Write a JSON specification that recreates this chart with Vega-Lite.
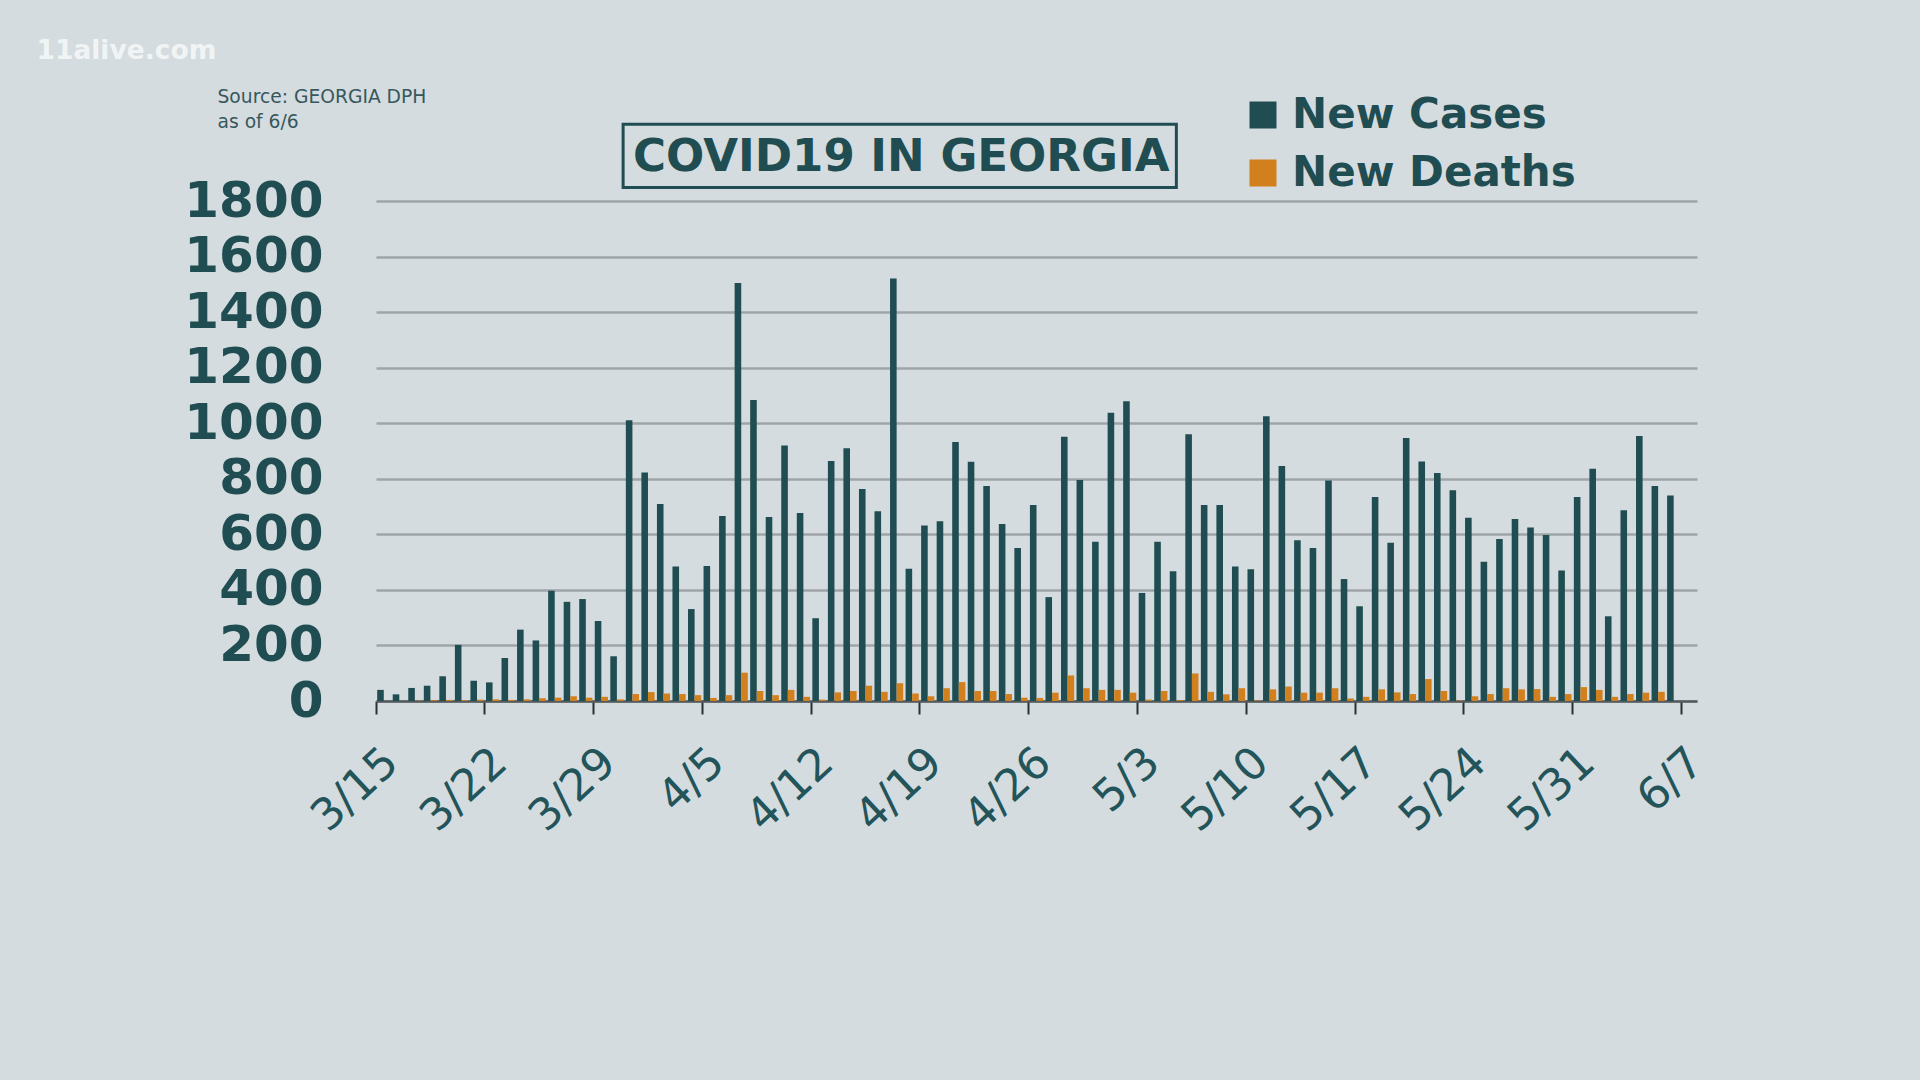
{
"$schema": "https://vega.github.io/schema/vega-lite/v6.json",
"width": 1321,
"height": 500,
"autosize": {"type": "none"},
"padding": {"left": 376, "top": 201, "right": 223, "bottom": 379},
"background": "#d5dcdf",
"config": {"view": {"stroke": null}, "font": "DejaVu Sans"},
"data": {"values": [
{"date":"3/15","series":"New Cases","value":40},{"date":"3/15","series":"New Deaths","value":0},
{"date":"3/16","series":"New Cases","value":24},{"date":"3/16","series":"New Deaths","value":0},
{"date":"3/17","series":"New Cases","value":47},{"date":"3/17","series":"New Deaths","value":1},
{"date":"3/18","series":"New Cases","value":55},{"date":"3/18","series":"New Deaths","value":3},
{"date":"3/19","series":"New Cases","value":89},{"date":"3/19","series":"New Deaths","value":4},
{"date":"3/20","series":"New Cases","value":202},{"date":"3/20","series":"New Deaths","value":3},
{"date":"3/21","series":"New Cases","value":73},{"date":"3/21","series":"New Deaths","value":5},
{"date":"3/22","series":"New Cases","value":67},{"date":"3/22","series":"New Deaths","value":6},
{"date":"3/23","series":"New Cases","value":155},{"date":"3/23","series":"New Deaths","value":4},
{"date":"3/24","series":"New Cases","value":257},{"date":"3/24","series":"New Deaths","value":6},
{"date":"3/25","series":"New Cases","value":218},{"date":"3/25","series":"New Deaths","value":10},
{"date":"3/26","series":"New Cases","value":397},{"date":"3/26","series":"New Deaths","value":12},
{"date":"3/27","series":"New Cases","value":357},{"date":"3/27","series":"New Deaths","value":17},
{"date":"3/28","series":"New Cases","value":367},{"date":"3/28","series":"New Deaths","value":12},
{"date":"3/29","series":"New Cases","value":288},{"date":"3/29","series":"New Deaths","value":15},
{"date":"3/30","series":"New Cases","value":161},{"date":"3/30","series":"New Deaths","value":6},
{"date":"3/31","series":"New Cases","value":1011},{"date":"3/31","series":"New Deaths","value":25},
{"date":"4/1","series":"New Cases","value":823},{"date":"4/1","series":"New Deaths","value":32},
{"date":"4/2","series":"New Cases","value":709},{"date":"4/2","series":"New Deaths","value":27},
{"date":"4/3","series":"New Cases","value":484},{"date":"4/3","series":"New Deaths","value":25},
{"date":"4/4","series":"New Cases","value":331},{"date":"4/4","series":"New Deaths","value":21},
{"date":"4/5","series":"New Cases","value":486},{"date":"4/5","series":"New Deaths","value":11},
{"date":"4/6","series":"New Cases","value":666},{"date":"4/6","series":"New Deaths","value":21},
{"date":"4/7","series":"New Cases","value":1505},{"date":"4/7","series":"New Deaths","value":102},
{"date":"4/8","series":"New Cases","value":1084},{"date":"4/8","series":"New Deaths","value":36},
{"date":"4/9","series":"New Cases","value":662},{"date":"4/9","series":"New Deaths","value":21},
{"date":"4/10","series":"New Cases","value":920},{"date":"4/10","series":"New Deaths","value":40},
{"date":"4/11","series":"New Cases","value":677},{"date":"4/11","series":"New Deaths","value":15},
{"date":"4/12","series":"New Cases","value":298},{"date":"4/12","series":"New Deaths","value":5},
{"date":"4/13","series":"New Cases","value":864},{"date":"4/13","series":"New Deaths","value":31},
{"date":"4/14","series":"New Cases","value":910},{"date":"4/14","series":"New Deaths","value":36},
{"date":"4/15","series":"New Cases","value":763},{"date":"4/15","series":"New Deaths","value":55},
{"date":"4/16","series":"New Cases","value":683},{"date":"4/16","series":"New Deaths","value":33},
{"date":"4/17","series":"New Cases","value":1521},{"date":"4/17","series":"New Deaths","value":64},
{"date":"4/18","series":"New Cases","value":476},{"date":"4/18","series":"New Deaths","value":27},
{"date":"4/19","series":"New Cases","value":632},{"date":"4/19","series":"New Deaths","value":17},
{"date":"4/20","series":"New Cases","value":647},{"date":"4/20","series":"New Deaths","value":46},
{"date":"4/21","series":"New Cases","value":932},{"date":"4/21","series":"New Deaths","value":68},
{"date":"4/22","series":"New Cases","value":861},{"date":"4/22","series":"New Deaths","value":36},
{"date":"4/23","series":"New Cases","value":774},{"date":"4/23","series":"New Deaths","value":36},
{"date":"4/24","series":"New Cases","value":637},{"date":"4/24","series":"New Deaths","value":25},
{"date":"4/25","series":"New Cases","value":551},{"date":"4/25","series":"New Deaths","value":12},
{"date":"4/26","series":"New Cases","value":706},{"date":"4/26","series":"New Deaths","value":11},
{"date":"4/27","series":"New Cases","value":374},{"date":"4/27","series":"New Deaths","value":30},
{"date":"4/28","series":"New Cases","value":951},{"date":"4/28","series":"New Deaths","value":92},
{"date":"4/29","series":"New Cases","value":796},{"date":"4/29","series":"New Deaths","value":46},
{"date":"4/30","series":"New Cases","value":573},{"date":"4/30","series":"New Deaths","value":40},
{"date":"5/1","series":"New Cases","value":1038},{"date":"5/1","series":"New Deaths","value":40},
{"date":"5/2","series":"New Cases","value":1079},{"date":"5/2","series":"New Deaths","value":30},
{"date":"5/3","series":"New Cases","value":389},{"date":"5/3","series":"New Deaths","value":5},
{"date":"5/4","series":"New Cases","value":573},{"date":"5/4","series":"New Deaths","value":36},
{"date":"5/5","series":"New Cases","value":467},{"date":"5/5","series":"New Deaths","value":3},
{"date":"5/6","series":"New Cases","value":960},{"date":"5/6","series":"New Deaths","value":99},
{"date":"5/7","series":"New Cases","value":706},{"date":"5/7","series":"New Deaths","value":33},
{"date":"5/8","series":"New Cases","value":706},{"date":"5/8","series":"New Deaths","value":24},
{"date":"5/9","series":"New Cases","value":484},{"date":"5/9","series":"New Deaths","value":46},
{"date":"5/10","series":"New Cases","value":474},{"date":"5/10","series":"New Deaths","value":2},
{"date":"5/11","series":"New Cases","value":1025},{"date":"5/11","series":"New Deaths","value":42},
{"date":"5/12","series":"New Cases","value":846},{"date":"5/12","series":"New Deaths","value":52},
{"date":"5/13","series":"New Cases","value":579},{"date":"5/13","series":"New Deaths","value":30},
{"date":"5/14","series":"New Cases","value":551},{"date":"5/14","series":"New Deaths","value":30},
{"date":"5/15","series":"New Cases","value":794},{"date":"5/15","series":"New Deaths","value":46},
{"date":"5/16","series":"New Cases","value":439},{"date":"5/16","series":"New Deaths","value":9},
{"date":"5/17","series":"New Cases","value":341},{"date":"5/17","series":"New Deaths","value":15},
{"date":"5/18","series":"New Cases","value":734},{"date":"5/18","series":"New Deaths","value":42},
{"date":"5/19","series":"New Cases","value":570},{"date":"5/19","series":"New Deaths","value":31},
{"date":"5/20","series":"New Cases","value":947},{"date":"5/20","series":"New Deaths","value":25},
{"date":"5/21","series":"New Cases","value":862},{"date":"5/21","series":"New Deaths","value":79},
{"date":"5/22","series":"New Cases","value":821},{"date":"5/22","series":"New Deaths","value":36},
{"date":"5/23","series":"New Cases","value":759},{"date":"5/23","series":"New Deaths","value":2},
{"date":"5/24","series":"New Cases","value":660},{"date":"5/24","series":"New Deaths","value":17},
{"date":"5/25","series":"New Cases","value":501},{"date":"5/25","series":"New Deaths","value":25},
{"date":"5/26","series":"New Cases","value":583},{"date":"5/26","series":"New Deaths","value":46},
{"date":"5/27","series":"New Cases","value":655},{"date":"5/27","series":"New Deaths","value":42},
{"date":"5/28","series":"New Cases","value":625},{"date":"5/28","series":"New Deaths","value":43},
{"date":"5/29","series":"New Cases","value":598},{"date":"5/29","series":"New Deaths","value":15},
{"date":"5/30","series":"New Cases","value":470},{"date":"5/30","series":"New Deaths","value":25},
{"date":"5/31","series":"New Cases","value":734},{"date":"5/31","series":"New Deaths","value":50},
{"date":"6/1","series":"New Cases","value":836},{"date":"6/1","series":"New Deaths","value":40},
{"date":"6/2","series":"New Cases","value":305},{"date":"6/2","series":"New Deaths","value":15},
{"date":"6/3","series":"New Cases","value":687},{"date":"6/3","series":"New Deaths","value":25},
{"date":"6/4","series":"New Cases","value":954},{"date":"6/4","series":"New Deaths","value":30},
{"date":"6/5","series":"New Cases","value":774},{"date":"6/5","series":"New Deaths","value":33},
{"date":"6/6","series":"New Cases","value":740},{"date":"6/6","series":"New Deaths","value":0}
]},
"layer": [
{
"mark": {"type": "bar"},
"encoding": {
"x": {"field": "date", "type": "ordinal", "sort": null,
"scale": {"domain": ["3/15","3/16","3/17","3/18","3/19","3/20","3/21","3/22","3/23","3/24","3/25","3/26","3/27","3/28","3/29","3/30","3/31","4/1","4/2","4/3","4/4","4/5","4/6","4/7","4/8","4/9","4/10","4/11","4/12","4/13","4/14","4/15","4/16","4/17","4/18","4/19","4/20","4/21","4/22","4/23","4/24","4/25","4/26","4/27","4/28","4/29","4/30","5/1","5/2","5/3","5/4","5/5","5/6","5/7","5/8","5/9","5/10","5/11","5/12","5/13","5/14","5/15","5/16","5/17","5/18","5/19","5/20","5/21","5/22","5/23","5/24","5/25","5/26","5/27","5/28","5/29","5/30","5/31","6/1","6/2","6/3","6/4","6/5","6/6","6/7"], "paddingInner": 0, "paddingOuter": 0},
"axis": {"values": ["3/15","3/22","3/29","4/5","4/12","4/19","4/26","5/3","5/10","5/17","5/24","5/31","6/7"],
"bandPosition": 0, "labelAngle": -43, "labelAlign": "right", "labelBaseline": "middle",
"labelFont": "DejaVu Sans", "labelFontSize": 44, "labelColor": "#22545a", "labelPadding": 42, "labelOffset": 8,
"labelOverlap": false, "labelBound": false, "labelFlush": false,
"tickSize": 13, "tickWidth": 2, "tickColor": "#2b2f30", "domainColor": "#555b5e", "domainWidth": 2.5, "grid": false,
"title": "11alive.com", "titleX": -340, "titleY": -643, "titleAngle": 0, "titleAlign": "left", "titleBaseline": "alphabetic",
"titleFont": "DejaVu Sans", "titleFontSize": 26.5, "titleFontWeight": "bold", "titleColor": "#f7f9fa", "titleOpacity": 0.85}},
"xOffset": {"field": "series", "type": "nominal", "scale": {"domain": ["New Cases","New Deaths"], "paddingInner": 0, "paddingOuter": 0.18}},
"y": {"field": "value", "type": "quantitative", "scale": {"domain": [0, 1800], "nice": false},
"axis": {"values": [0,200,400,600,800,1000,1200,1400,1600,1800], "format": "d", "domain": false, "ticks": false,
"labelFont": "DejaVu Sans", "labelFontWeight": "bold", "labelFontSize": 50, "labelColor": "#1f4d52", "labelPadding": 53, "labelBaseline": "middle",
"grid": true, "gridColor": "#9ea4a7", "gridWidth": 2.5,
"title": ["Source: GEORGIA DPH", "as of 6/6"], "titleX": -159, "titleY": -99, "titleAngle": 0, "titleAlign": "left", "titleBaseline": "alphabetic",
"titleFont": "DejaVu Sans", "titleFontWeight": "normal", "titleFontSize": 18.7, "titleColor": "#36585d", "titleLineHeight": 25}},
"color": {"field": "series", "type": "nominal", "scale": {"domain": ["New Cases","New Deaths"], "range": ["#1f4d52", "#d27f1d"]},
"legend": {"orient": "none", "legendX": 866, "legendY": -107, "title": null, "symbolType": "square", "symbolSize": 729, "symbolStrokeWidth": 0, "symbolOpacity": 1,
"labelFont": "DejaVu Sans", "labelFontWeight": "bold", "labelFontSize": 42, "labelColor": "#1f4d52", "labelOffset": 8, "rowPadding": 16, "padding": 0, "labelLimit": 0}}
}
},
{
"data": {"values": [{}]},
"mark": {"type": "rect", "fill": null, "stroke": "#1f4d52", "strokeWidth": 3},
"encoding": {
"x": {"datum": "3/30", "type": "ordinal", "bandPosition": 0.9},
"x2": {"datum": "5/5"},
"y": {"datum": 1849, "type": "quantitative", "scale": {"domain": [0, 1800], "nice": false}},
"y2": {"datum": 2076}
}
},
{
"data": {"values": [{}]},
"mark": {"type": "text", "text": "COVID19 IN GEORGIA", "font": "DejaVu Sans", "fontWeight": "bold", "fontSize": 45, "color": "#1f4d52", "align": "center", "baseline": "middle"},
"encoding": {
"x": {"datum": "4/17", "type": "ordinal", "bandPosition": 0.8},
"y": {"datum": 1957, "type": "quantitative", "scale": {"domain": [0, 1800], "nice": false}}
}
}
]
}
